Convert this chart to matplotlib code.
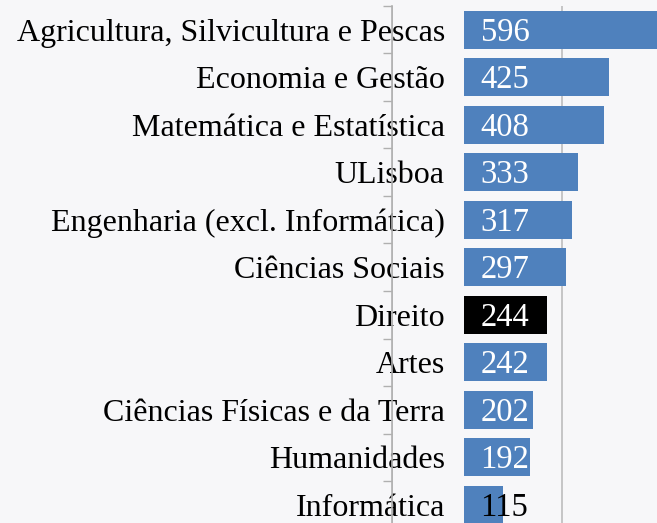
import numpy as np
import matplotlib.pyplot as plt
from matplotlib.ticker import FixedLocator

categories = [
    "Agricultura, Silvicultura e Pescas",
    "Economia e Gestão",
    "Matemática e Estatística",
    "ULisboa",
    "Engenharia (excl. Informática)",
    "Ciências Sociais",
    "Direito",
    "Artes",
    "Ciências Físicas e da Terra",
    "Humanidades",
    "Informática",
]
values = [596, 425, 408, 333, 317, 297, 244, 242, 202, 192, 115]
highlight = "Direito"
grid_positions = [-210, 287]

blue = "#4f81bd"
bg = "#f7f7f9"

plt.rcParams["font.family"] = ["Liberation Serif", "DejaVu Serif"]

fig = plt.figure(figsize=(6.57, 5.23), dpi=100, facecolor=bg)
ax = fig.add_axes([392 / 657, 0, 1 - 392 / 657, 1 - 6 / 523])
ax.set_facecolor(bg)

y = np.arange(len(categories))
colors = ["black" if c == highlight else blue for c in categories]
ax.barh(y, values, height=0.8, color=colors, zorder=2)

ax.set_xlim(-210, 564)
ax.set_ylim(-0.5 + (523 - 6) / 47.5, -0.5)

# vertical gridlines
ax.set_xticks(grid_positions)
ax.xaxis.grid(True, color="#bdbdbd", linewidth=1.2, zorder=0)
ax.tick_params(axis="x", length=0, labelbottom=False)

# category labels at centres, boundary ticks as minor ticks
ax.set_yticks(y)
ax.set_yticklabels(categories, fontsize=23)
ax.tick_params(axis="y", which="major", length=0, pad=-38)
ax.yaxis.set_minor_locator(FixedLocator(np.arange(-0.5, len(categories), 1)))
ax.tick_params(axis="y", which="minor", length=6.5, width=1, color="#b0b0b0")

for s in ["top", "right", "bottom"]:
    ax.spines[s].set_visible(False)
ax.spines["left"].set_color("#b0b0b0")
ax.spines["left"].set_linewidth(1.2)

for yi, v in zip(y, values):
    txt_color = "black" if v < 150 else "white"
    ax.annotate(str(v), xy=(0, yi), xytext=(12, -8), textcoords="offset points",
                ha="left", va="baseline", fontsize=23.5, color=txt_color, zorder=3)

plt.savefig("out.png", dpi=100, facecolor=bg)
